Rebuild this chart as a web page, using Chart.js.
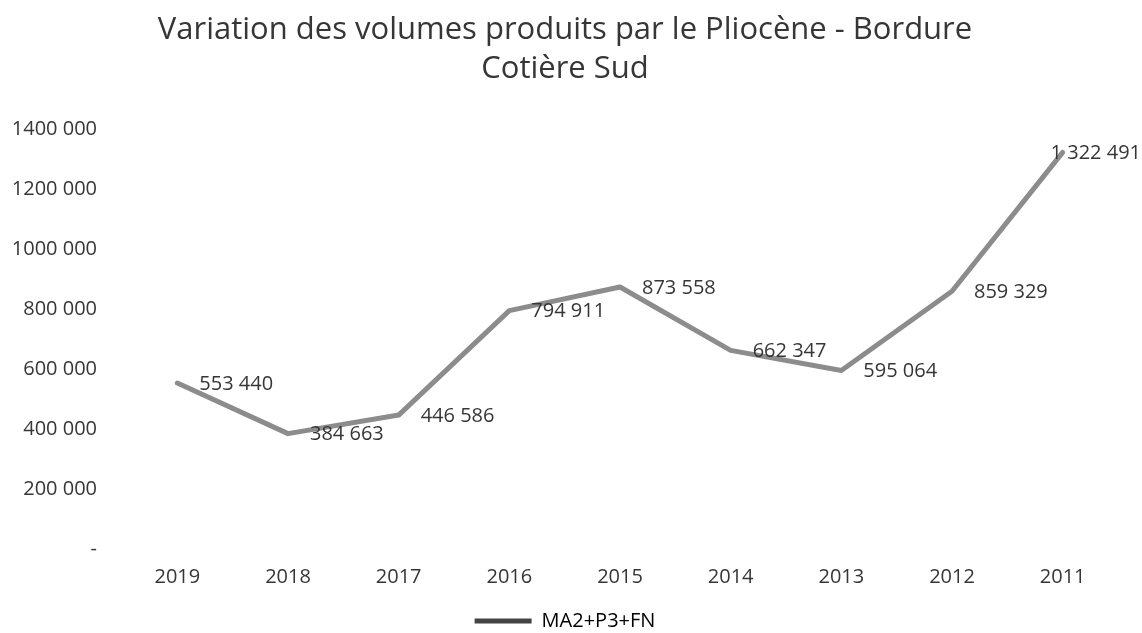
<!DOCTYPE html>
<html>
<head>
<meta charset="utf-8">
<script src="https://cdn.jsdelivr.net/npm/chart.js@4.4.0/dist/chart.umd.min.js"></script>
<style>
  html, body { margin: 0; padding: 0; background: #fff; }
</style>
</head>
<body>
<canvas id="chart" width="1142" height="633"></canvas>
<script>
const years = ['2019', '2018', '2017', '2016', '2015', '2014', '2013', '2012', '2011'];
const volumes = [553440, 384663, 446586, 794911, 873558, 662347, 595064, 859329, 1322491];
const seriesName = 'MA2+P3+FN';
const titleLines = ['Variation des volumes produits par le Pliocène - Bordure', 'Cotière Sud'];

const textColor = '#363636';
const lineColor = '#8c8c8c';
const fontFamily = '"Open Sans", "Noto Sans", sans-serif';

// y ticks look like "1400 000", data labels like "1 322 491"
function tickFormat(v) {
  if (v === 0) return '-';
  const k = Math.floor(v / 1000);
  return k + ' ' + String(v % 1000).padStart(3, '0');
}
function labelFormat(v) {
  return String(v).replace(/\B(?=(\d{3})+(?!\d))/g, ' ');
}

// draws the value to the right of every point
const valueLabels = {
  id: 'valueLabels',
  afterDatasetsDraw(chart) {
    const ctx = chart.ctx;
    const meta = chart.getDatasetMeta(0);
    const data = chart.data.datasets[0].data;
    ctx.save();
    ctx.font = '20px ' + fontFamily;
    ctx.fillStyle = textColor;
    ctx.textAlign = 'left';
    ctx.textBaseline = 'middle';
    meta.data.forEach((pt, i) => {
      const txt = labelFormat(data[i]);
      const w = ctx.measureText(txt).width;
      let x = pt.x + 22;
      if (x + w > chart.width - 1) x = chart.width - 1 - w;
      ctx.fillText(txt, x, pt.y + 1);
    });
    ctx.restore();
  }
};

new Chart(document.getElementById('chart'), {
  type: 'line',
  data: {
    labels: years,
    datasets: [{
      label: seriesName,
      data: volumes,
      borderColor: lineColor,
      backgroundColor: lineColor,
      borderWidth: 5,
      borderCapStyle: 'round',
      borderJoinStyle: 'round',
      tension: 0,
      pointRadius: 0,
      fill: false,
    }],
  },
  options: {
    responsive: false,
    maintainAspectRatio: false,
    animation: false,
    layout: { padding: { left: 12, right: 24, top: 0, bottom: -8 } },
    scales: {
      x: {
        offset: true,
        grid: { display: false, drawTicks: false },
        border: { display: false },
        ticks: { color: textColor, font: { family: fontFamily, size: 20 }, padding: 16, maxRotation: 0 },
      },
      y: {
        min: 0,
        max: 1400000,
        grid: { display: false, drawTicks: false },
        border: { display: false },
        afterFit: (scale) => { scale.width = 110; },
        ticks: { stepSize: 200000, color: textColor, font: { family: fontFamily, size: 20 }, padding: 25, callback: tickFormat },
      },
    },
    plugins: {
      title: {
        display: true,
        text: titleLines,
        color: textColor,
        font: { family: fontFamily, size: 31, weight: 'normal', lineHeight: 1.26 },
        padding: { top: 11, bottom: 40 },
      },
      legend: {
        display: true,
        position: 'bottom',
        labels: {
          color: textColor,
          font: { family: fontFamily, size: 20 },
          boxWidth: 57,
          boxHeight: 5,
          padding: 6,
          generateLabels: (chart) => [{
            text: seriesName,
            fillStyle: '#444',
            strokeStyle: '#444',
            lineWidth: 0,
            datasetIndex: 0,
          }],
        },
      },
      tooltip: { enabled: false },
    },
  },
  plugins: [valueLabels],
});
</script>
</body>
</html>
